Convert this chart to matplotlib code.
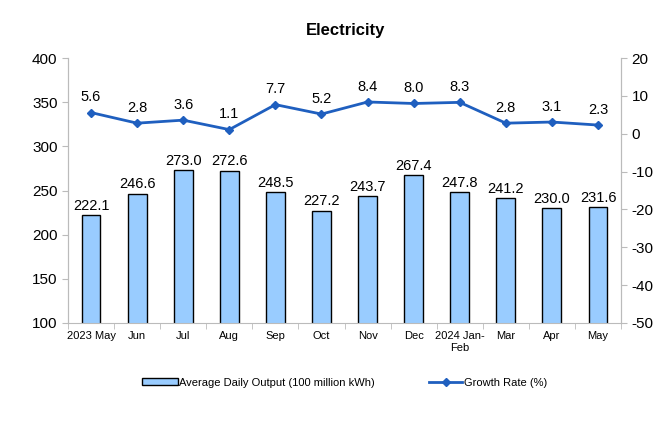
import matplotlib
matplotlib.use('Agg')
import matplotlib.pyplot as plt
import numpy as np
from matplotlib.lines import Line2D
from matplotlib.patches import Patch

plt.rcParams['font.family'] = ['Liberation Sans', 'DejaVu Sans']
plt.rcParams['axes.unicode_minus'] = False

months = ['2023 May', 'Jun', 'Jul', 'Aug', 'Sep', 'Oct', 'Nov', 'Dec',
          '2024 Jan-\nFeb', 'Mar', 'Apr', 'May']
output = [222.1, 246.6, 273.0, 272.6, 248.5, 227.2, 243.7, 267.4, 247.8, 241.2, 230.0, 231.6]
growth = [5.6, 2.8, 3.6, 1.1, 7.7, 5.2, 8.4, 8.0, 8.3, 2.8, 3.1, 2.3]

fig = plt.figure(figsize=(6.6, 4.4), dpi=100)
ax = fig.add_axes([0.103, 0.266, 0.838, 0.602])
ax2 = ax.twinx()

x = np.arange(len(months))
bar_color = '#99ccff'
line_color = '#1f5fbf'

ax.bar(x, output, width=0.41, bottom=0, color=bar_color, edgecolor='black', linewidth=1.0, zorder=2)
for xi, v in zip(x, output):
    ax.text(xi, v + 2.5, f'{v:.1f}', ha='center', va='bottom', fontsize=10.5)

ax.set_ylim(100, 400)
ax.set_yticks(range(100, 401, 50))
ax.set_xlim(-0.5, len(months) - 0.5)
ax.set_xticks(x)
ax.set_xticklabels(months, fontsize=8)
ax.set_xticks(np.arange(-0.5, len(months), 1), minor=True)
ax.tick_params(axis='x', which='major', length=0, pad=6)
ax.tick_params(axis='x', which='minor', length=4, color='#bbbbbb')
ax.tick_params(axis='y', labelsize=11, length=4, color='#bbbbbb')

ax2.plot(x, growth, color=line_color, linewidth=2, marker='D', markersize=4, zorder=3)
for xi, g in zip(x, growth):
    ax2.text(xi, g + 2.2, f'{g:.1f}', ha='center', va='bottom', fontsize=10.5)
ax2.set_ylim(-50, 20)
ax2.set_yticks(range(-50, 21, 10))
ax2.tick_params(axis='y', labelsize=11, length=4, color='#bbbbbb')

for a in (ax, ax2):
    a.spines['top'].set_visible(False)
    for s in ('left', 'right', 'bottom'):
        a.spines[s].set_color('#bbbbbb')
ax2.spines['bottom'].set_visible(False)

fig.text(0.523, 0.93, 'Electricity', ha='center', va='center', fontsize=12, fontweight='bold')

handles = [Patch(facecolor=bar_color, edgecolor='black', linewidth=1.0),
           Line2D([0], [0], color=line_color, linewidth=2, marker='D', markersize=4)]
fig.legend(handles[:1], ['Average Daily Output (100 million kWh)'], loc='center left',
           bbox_to_anchor=(0.2, 0.13), frameon=False, fontsize=8, handlelength=3.2,
           handleheight=0.6, handletextpad=0.1)
fig.legend(handles[1:], ['Growth Rate (%)'], loc='center left',
           bbox_to_anchor=(0.635, 0.13), frameon=False, fontsize=8, handlelength=3,
           handletextpad=0.1)

fig.savefig('out.png', dpi=100)
